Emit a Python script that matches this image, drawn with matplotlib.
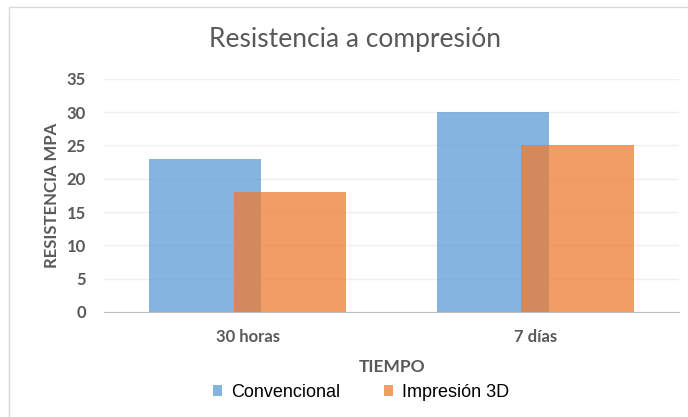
import matplotlib.pyplot as plt
import numpy as np
from matplotlib.patches import Rectangle

categorias = ['30 horas', '7 días']
convencional = [23, 30]
impresion_3d = [18, 25]
series = ['Convencional', 'Impresión 3D']

plt.rcParams['font.family'] = ['Lato', 'DejaVu Sans']

fig = plt.figure(figsize=(6.88, 4.17), dpi=100)
ax = fig.add_axes([0.151, 0.252, 0.836, 0.559])

x = np.arange(len(categorias))
ancho = 0.39
desp = 0.147
ax.bar(x - desp, convencional, ancho, color='#5B9BD5', alpha=0.75, label=series[0], zorder=2)
ax.bar(x + desp, impresion_3d, ancho, color='#ED7D31', alpha=0.75, label=series[1], zorder=3)

ax.set_xlim(-0.5, 1.5)
ax.set_ylim(0, 35)
ax.set_yticks(range(0, 36, 5))
ax.set_xticks(x)
ax.set_xticklabels(categorias)

gris = '#595959'
ax.tick_params(axis='both', length=0, labelsize=12, colors=gris)
ax.tick_params(axis='y', pad=13)
ax.tick_params(axis='x', pad=12)
for lbl in ax.get_xticklabels() + ax.get_yticklabels():
    lbl.set_fontweight('bold')
ax.yaxis.grid(True, color='#EFEFEF', lw=1, zorder=0)
for s in ['top', 'right', 'left']:
    ax.spines[s].set_visible(False)
ax.spines['bottom'].set_color('#BFBFBF')

ax.set_ylabel('RESISTENCIA MPA', fontsize=12, fontweight='bold', color=gris, labelpad=5)
fig.text(0.57, 0.12, 'TIEMPO', ha='center', va='center', fontsize=12.5,
         fontweight='bold', color=gris)
fig.text(0.516, 0.905, 'Resistencia a compresión', ha='center', va='center',
         fontsize=19, color=gris)

ax.legend(loc='center', bbox_to_anchor=(0.447, -0.345), ncol=2, frameon=False,
          handlelength=0.5, handleheight=0.5, handletextpad=0.5, columnspacing=2.4,
          prop={'family': 'Liberation Sans', 'size': 13})

fig.patches.append(Rectangle((0.013, -0.01), 1.0, 0.993, transform=fig.transFigure,
                             fill=False, edgecolor='#D9D9D9', lw=1))

fig.savefig('out.png', dpi=100)
